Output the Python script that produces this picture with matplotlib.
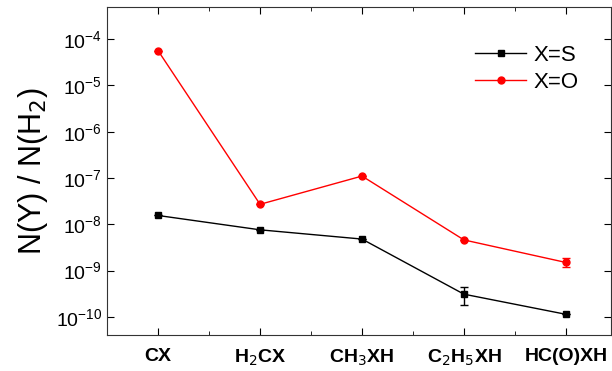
import numpy as np
import matplotlib.pyplot as plt

plt.rcParams['font.family'] = ['Liberation Sans', 'DejaVu Sans']

# molecules on the x axis
labels = ['CX', r'H$_2$CX', r'CH$_3$XH', r'C$_2$H$_5$XH', 'HC(O)XH']

# X=S series
s_vals = [1.55e-8, 7.6e-9, 4.8e-9, 3.1e-10, 1.14e-10]
s_lo = [0, 0, 0, 1.3e-10, 0]
s_hi = [0, 0, 0, 1.4e-10, 0]

# X=O series
o_vals = [5.6e-5, 2.7e-8, 1.1e-7, 4.6e-9, 1.5e-9]
o_lo = [0, 0, 0, 0, 0.3e-9]
o_hi = [0, 0, 0, 0, 0.4e-9]

x = np.arange(len(labels))

fig = plt.figure(figsize=(6.12, 3.71), dpi=100)
ax = fig.add_axes([0.175, 0.097, 0.823, 0.884])

es = ax.errorbar(x, s_vals, yerr=[s_lo, s_hi], color='black', marker='s', ms=5,
                 lw=1, capsize=3, elinewidth=1)
eo = ax.errorbar(x, o_vals, yerr=[o_lo, o_hi], color='red', marker='o', ms=5,
                 lw=1, capsize=3, elinewidth=1)

ax.set_yscale('log')
ax.set_ylim(10**-10.39, 10**-3.31)
ax.set_xlim(-0.5, 4.44)
ax.set_xticks(x)
ax.set_xticklabels(labels, fontsize=14, fontweight='bold')
ax.set_xticks(x[:-1] + 0.5, minor=True)
ax.set_yticks([10.0**k for k in range(-10, -3)])
ax.yaxis.set_minor_locator(plt.NullLocator())
ax.tick_params(axis='both', which='both', direction='in', top=True, right=True)
ax.tick_params(axis='y', labelsize=14, length=5)
ax.tick_params(axis='x', which='major', length=5, pad=9)
ax.tick_params(axis='x', which='minor', length=3)
for s in ax.spines.values():
    s.set_color('#333333')

ax.set_ylabel(r'N(Y) / N(H$_2$)', fontsize=22)

ax.legend([es.lines[0], eo.lines[0]], ['X=S', 'X=O'], loc='upper right',
          frameon=False, fontsize=16, handlelength=2.3, handletextpad=0.3,
          labelspacing=0.25, bbox_to_anchor=(0.975, 0.945))

fig.savefig('out.png', dpi=100)
